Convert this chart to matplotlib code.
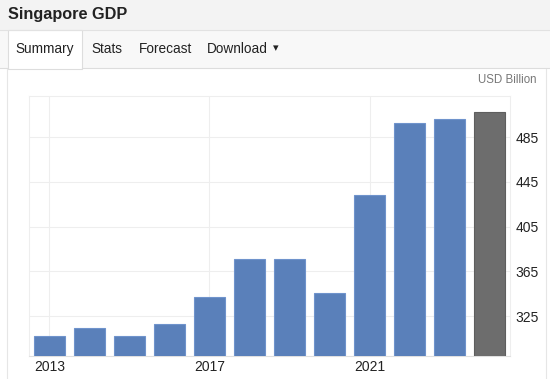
import matplotlib
matplotlib.use("Agg")
import matplotlib.pyplot as plt
from matplotlib.patches import Rectangle
from matplotlib.lines import Line2D

plt.rcParams['font.family'] = ['Liberation Sans', 'DejaVu Sans']

years = [2013, 2014, 2015, 2016, 2017, 2018, 2019, 2020, 2021, 2022, 2023, 2024]
gdp = [307.0, 314.5, 307.5, 318.0, 342.0, 376.0, 376.0, 346.0, 433.5, 498.0, 501.0, 508.0]
is_forecast = [False] * 11 + [True]
xtick_years = [2013, 2017, 2021]
yticks = [325, 365, 405, 445, 485]
title = "Singapore GDP"
tabs = ["Summary", "Stats", "Forecast", "Download"]
unit = "USD Billion"

W, H = 550, 379
fig = plt.figure(figsize=(W / 100, H / 100), dpi=100)
fig.patch.set_facecolor('white')

def px(x, y, w, h):
    return (x / W, 1 - (y + h) / H, w / W, h / H)

# header band
fig.patches.append(Rectangle((0, 1 - 30 / H), 1, 30 / H, transform=fig.transFigure,
                             facecolor='#f3f3f3', edgecolor='none', zorder=0))
# tab bar band
fig.patches.append(Rectangle((0, 1 - 68 / H), 1, 38 / H, transform=fig.transFigure,
                             facecolor='#f8f8f8', edgecolor='none', zorder=0))
# active tab (white)
fig.patches.append(Rectangle((8 / W, 1 - 69 / H), 74 / W, 39 / H, transform=fig.transFigure,
                             facecolor='white', edgecolor='#dddddd', linewidth=0.8, zorder=1))
# lines
fig.lines.append(Line2D([0, 1], [1 - 30 / H] * 2, transform=fig.transFigure, color='#e2e2e2', lw=0.8))
fig.lines.append(Line2D([82 / W, 1], [1 - 68 / H] * 2, transform=fig.transFigure, color='#dddddd', lw=0.8))
fig.lines.append(Line2D([0, 8 / W], [1 - 68 / H] * 2, transform=fig.transFigure, color='#dddddd', lw=0.8))
fig.lines.append(Line2D([7 / W] * 2, [0, 1 - 69 / H], transform=fig.transFigure, color='#e6e6e6', lw=0.8))
fig.lines.append(Line2D([546 / W] * 2, [0, 1 - 69 / H], transform=fig.transFigure, color='#e6e6e6', lw=0.8))

fig.text(8 / W, 1 - 15 / H, title, fontsize=11.7, fontweight='bold', color='#222222', va='center')
tab_x = [15, 91, 139, 207]
for t, xx in zip(tabs, tab_x):
    fig.text(xx / W, 1 - 49 / H, t, fontsize=9.8, color='#222222', va='center')
fig.text(273 / W, 1 - 48 / H, "\u25BE", fontsize=8, color='#222222', va='center')
fig.text(537 / W, 1 - 80 / H, unit, fontsize=8.3, color='#777777', va='center', ha='right')

ax = fig.add_axes(px(29, 96, 481, 260))
xs = list(range(len(years)))
colors = ['#6d6d6d' if f else '#5a80ba' for f in is_forecast]
edges = ['#5e5e5e' if f else '#6f93cc' for f in is_forecast]
ax.bar(xs, gdp, width=0.775, color=colors, edgecolor=edges, linewidth=0.8, zorder=3)

ax.set_xlim(-0.51, len(years) - 0.49)
ax.set_ylim(289.2, 522)
ax.set_yticks(yticks)
ax.set_yticklabels([str(v) for v in yticks])
ax.yaxis.tick_right()
ax.set_xticks([years.index(y) for y in xtick_years])
ax.set_xticklabels([str(y) for y in xtick_years])
ax.tick_params(axis='both', length=0, labelsize=10, colors='#222222')
ax.tick_params(axis='y', pad=4)
ax.tick_params(axis='x', pad=3)
ax.grid(True, color='#eeeeee', linewidth=0.8, zorder=0)
for s in ['left', 'top', 'right']:
    ax.spines[s].set_color('#eeeeee')
    ax.spines[s].set_linewidth(0.8)
ax.spines['bottom'].set_color('#e0e0e0')
ax.spines['bottom'].set_linewidth(0.8)

fig.savefig('out.png', dpi=100)
